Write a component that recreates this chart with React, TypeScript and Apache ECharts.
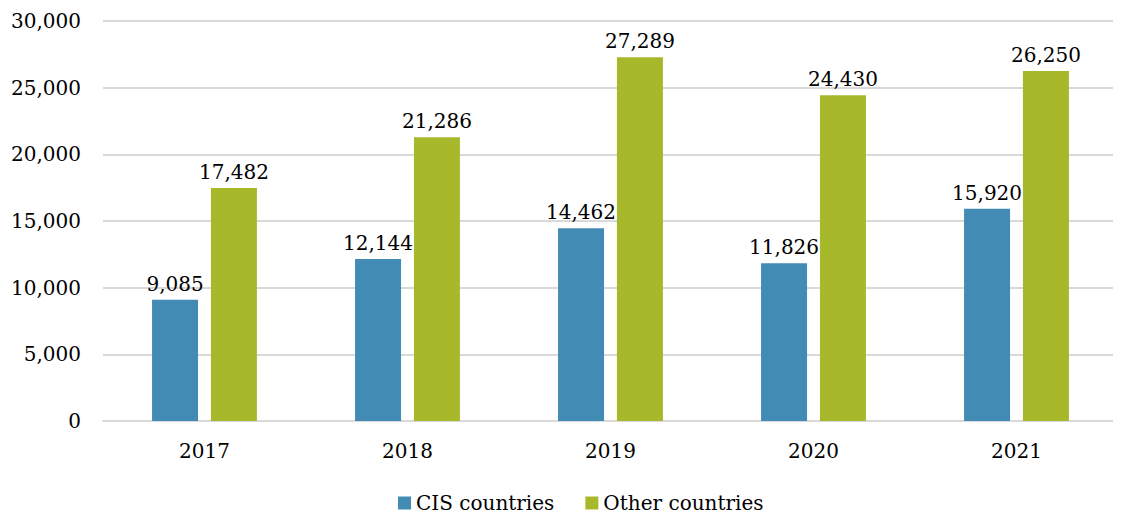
import React, { useEffect, useRef } from "react";
import * as echarts from "echarts";

const categories = ["2017", "2018", "2019", "2020", "2021"];
const cisValues = [9085, 12144, 14462, 11826, 15920];
const otherValues = [17482, 21286, 27289, 24430, 26250];
const seriesNames = ["CIS countries", "Other countries"];

const FONT = "'DejaVu Serif', serif";

export default function App() {
  const ref = useRef<HTMLDivElement>(null);
  useEffect(() => {
    const chart = echarts.init(ref.current!, null, { renderer: "svg" });
    const labelStyle = {
      show: true,
      position: "top",
      distance: 6,
      fontFamily: FONT,
      fontSize: 20,
      color: "#000",
      formatter: (p: any) => p.value.toLocaleString("en-US"),
    };
    chart.setOption({
      animation: false,
      grid: { left: 93, right: 3, top: 13, bottom: 97, containLabel: false },
      legend: {
        bottom: 5,
        left: 390,
        padding: 0,
        itemWidth: 13,
        itemHeight: 13,
        itemGap: 31,
        icon: "rect",
        textStyle: { fontFamily: FONT, fontSize: 20, color: "#000" },
        data: seriesNames,
      },
      xAxis: {
        type: "category",
        data: categories,
        axisLine: { lineStyle: { color: "#d9d9d9", width: 2 } },
        axisTick: { show: false },
        axisLabel: { fontFamily: FONT, fontSize: 20, color: "#000", margin: 20 },
      },
      yAxis: {
        type: "value",
        min: 0,
        max: 30000,
        interval: 5000,
        axisLine: { show: false },
        axisTick: { show: false },
        splitLine: { lineStyle: { color: "#d9d9d9", width: 2 } },
        axisLabel: {
          fontFamily: FONT,
          fontSize: 20,
          color: "#000",
          margin: 22,
          formatter: (v: number) => v.toLocaleString("en-US"),
        },
      },
      series: [
        {
          name: seriesNames[0],
          type: "bar",
          data: cisValues,
          barWidth: 46,
          barGap: "28%",
          itemStyle: { color: "#428BB4" },
          label: labelStyle,
        },
        {
          name: seriesNames[1],
          type: "bar",
          data: otherValues,
          barWidth: 46,
          barGap: "28%",
          itemStyle: { color: "#A8B82B" },
          label: labelStyle,
        },
      ],
    });
    return () => chart.dispose();
  }, []);
  return <div ref={ref} style={{ width: 1113, height: 510 }} />;
}
